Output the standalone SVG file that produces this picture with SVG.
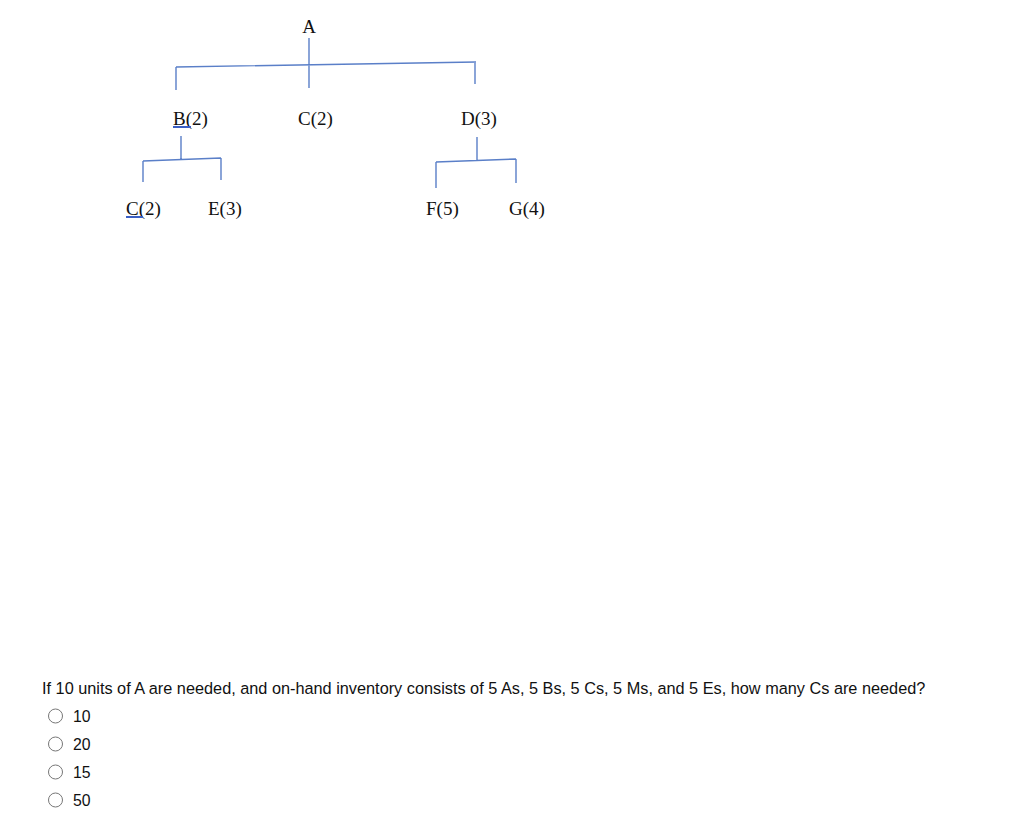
<svg xmlns="http://www.w3.org/2000/svg" width="1024" height="815" viewBox="0 0 1024 815">
<style>
.n{font-family:"Liberation Serif","Times New Roman",serif;font-size:19px;fill:#111}
.c{stroke:#5a7fc8;stroke-width:1.4;fill:none}
.u{stroke:#3b5fc4;stroke-width:2}
.q{font-family:"Liberation Sans",Arial,sans-serif;font-size:16.3px;fill:#111}
.o{font-family:"Liberation Sans",Arial,sans-serif;font-size:15.8px;fill:#111}
.r{fill:#fff;stroke:#777;stroke-width:1}
</style>
<rect width="1024" height="815" fill="#fff"/>
<g id="connectors">
<path class="c" d="M309 38V88M176 67L476 62M176 67V90M475 62V84"/>
<path class="c" d="M181 136V159M143 161L221 158M143 161V182M221 158V180"/>
<path class="c" d="M477 137V160M436 162L516 159M436 162V188M516 159V183"/>
</g>
<g id="A"><text class="n" x="309" y="33" text-anchor="middle">A</text></g>
<g id="B"><text class="n" x="173" y="125">B(2)</text><line class="u" x1="173" y1="127" x2="191" y2="127"/></g>
<g id="C1"><text class="n" x="298" y="125">C(2)</text></g>
<g id="D"><text class="n" x="461" y="125">D(3)</text></g>
<g id="C2"><text class="n" x="126" y="215">C(2)</text><line class="u" x1="126" y1="217" x2="143" y2="217"/></g>
<g id="E"><text class="n" x="208" y="215">E(3)</text></g>
<g id="F"><text class="n" x="426" y="215">F(5)</text></g>
<g id="G"><text class="n" x="509" y="215">G(4)</text></g>
<g id="question">
<text class="q" x="42" y="694">If 10 units of A are needed, and on-hand inventory consists of 5 As, 5 Bs, 5 Cs, 5 Ms, and 5 Es, how many Cs are needed?</text>
<circle class="r" cx="55.5" cy="716" r="7"/><text class="o" x="73" y="722">10</text>
<circle class="r" cx="55.5" cy="744" r="7"/><text class="o" x="73" y="750">20</text>
<circle class="r" cx="55.5" cy="772" r="7"/><text class="o" x="73" y="778">15</text>
<circle class="r" cx="55.5" cy="800" r="7"/><text class="o" x="73" y="806">50</text>
</g>
</svg>
